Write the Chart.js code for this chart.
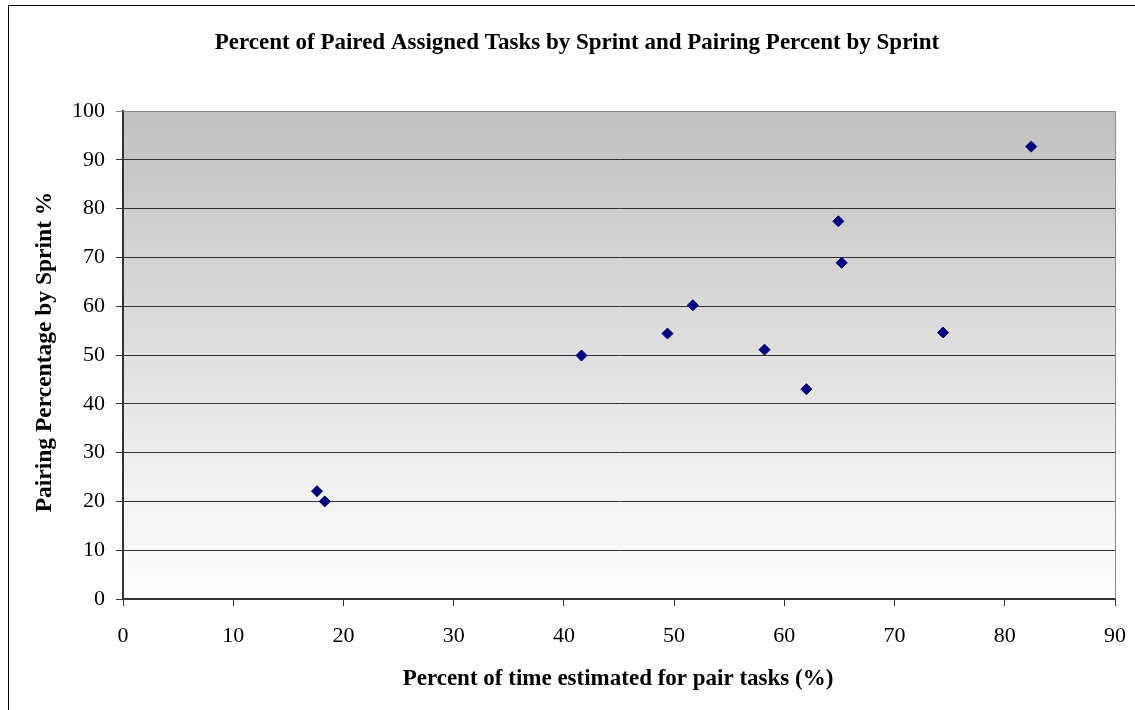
<!DOCTYPE html>
<html>
<head>
<meta charset="utf-8">
<script src="https://cdn.jsdelivr.net/npm/chart.js@4"></script>
<style>
  html, body { margin: 0; padding: 0; background: #ffffff; }
  #wrap { width: 1135px; height: 710px; position: relative; }
</style>
</head>
<body>
<div id="wrap"><canvas id="chart" width="1135" height="710"></canvas></div>
<script>
// Sprint observations: share of time estimated for pair tasks vs. pairing percentage
const pairTaskTimePct = [17.6, 18.3, 41.6, 49.4, 51.7, 58.2, 62.0, 65.2, 64.9, 82.4, 74.4];
const pairingPct      = [22.1, 20.0, 49.9, 54.4, 60.2, 51.1, 43.0, 68.9, 77.4, 92.7, 54.6];
const xTicks = [0, 10, 20, 30, 40, 50, 60, 70, 80, 90];
const yTicks = [0, 10, 20, 30, 40, 50, 60, 70, 80, 90, 100];

const chartTitle = 'Percent of Paired Assigned Tasks by Sprint and Pairing Percent by Sprint';
const xTitle = 'Percent of time estimated for pair tasks (%)';
const yTitle = 'Pairing Percentage by Sprint %';

const points = pairTaskTimePct.map((x, i) => ({ x: x, y: pairingPct[i] }));

const serif = '"Liberation Serif", "Times New Roman", serif';

// Frame, gradient plot background and titles
const decor = {
  id: 'decor',
  beforeDraw(chart) {
    const { ctx, chartArea: a } = chart;
    ctx.save();
    ctx.fillStyle = '#ffffff';
    ctx.fillRect(0, 0, chart.width, chart.height);
    ctx.strokeStyle = '#000000';
    ctx.lineWidth = 1;
    ctx.strokeRect(8.5, 5.5, 1400, 900);
    const g = ctx.createLinearGradient(0, a.top, 0, a.bottom);
    g.addColorStop(0, '#c0c0c0');
    g.addColorStop(1, '#ffffff');
    ctx.fillStyle = g;
    ctx.fillRect(a.left, a.top, a.right - a.left, a.bottom - a.top);
    ctx.restore();
  },
  afterDraw(chart) {
    const { ctx, chartArea: a } = chart;
    ctx.save();
    // plot border on top and right
    ctx.strokeStyle = '#8a8a8a';
    ctx.lineWidth = 1;
    ctx.beginPath();
    ctx.moveTo(a.left, a.top + 0.5);
    ctx.lineTo(a.right + 0.5, a.top + 0.5);
    ctx.lineTo(a.right + 0.5, a.bottom);
    ctx.stroke();

    ctx.fillStyle = '#000000';
    ctx.textAlign = 'center';
    ctx.textBaseline = 'middle';
    ctx.font = 'bold 23px ' + serif;
    ctx.fillText(chartTitle, 577, 43);
    ctx.font = 'bold 23px ' + serif;
    ctx.fillText(xTitle, 618, 679);
    ctx.font = 'bold 23.5px ' + serif;
    ctx.translate(45, 352);
    ctx.rotate(-Math.PI / 2);
    ctx.fillText(yTitle, 0, 0);
    ctx.restore();
  }
};

new Chart(document.getElementById('chart'), {
  type: 'scatter',
  data: {
    datasets: [{
      data: points,
      pointStyle: 'rectRot',
      pointRadius: 5.5,
      pointHoverRadius: 5.5,
      backgroundColor: '#000080',
      borderColor: '#000080',
      borderWidth: 1
    }]
  },
  options: {
    responsive: false,
    animation: false,
    events: [],
    layout: { padding: { left: 0, top: 111, right: 20, bottom: 0 } },
    plugins: {
      legend: { display: false },
      title: { display: false },
      tooltip: { enabled: false }
    },
    scales: {
      x: {
        type: 'linear',
        min: 0, max: 90,
        afterBuildTicks(scale) { scale.ticks = xTicks.map(v => ({ value: v })); },
        afterFit(scale) { scale.height = 111; scale.paddingLeft = 0; scale.paddingRight = 0; },
        grid: { display: true, drawOnChartArea: false, drawTicks: true, tickLength: 7, color: '#333333' },
        border: { display: true, color: '#333333', width: 2 },
        ticks: { color: '#000000', font: { family: serif, size: 22 }, padding: 17, maxRotation: 0 }
      },
      y: {
        type: 'linear',
        min: 0, max: 100,
        afterBuildTicks(scale) { scale.ticks = yTicks.map(v => ({ value: v })); },
        afterFit(scale) { scale.width = 123; scale.paddingTop = 0; scale.paddingBottom = 0; },
        grid: {
          display: true, drawOnChartArea: true, drawTicks: true, tickLength: 7,
          color: (c) => c.tick && c.tick.value === 100 ? '#8a8a8a' : '#333333'
        },
        border: { display: true, color: '#333333', width: 2 },
        ticks: { color: '#000000', font: { family: serif, size: 22 }, padding: 11 }
      }
    }
  },
  plugins: [decor]
});
</script>
</body>
</html>
